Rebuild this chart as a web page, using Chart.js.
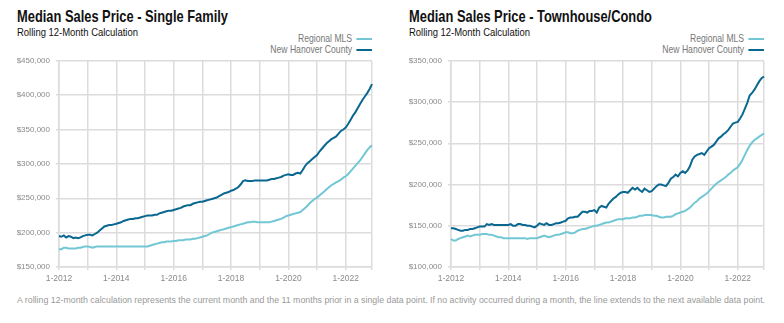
<!DOCTYPE html>
<html>
<head>
<meta charset="utf-8">
<script src="https://cdn.jsdelivr.net/npm/chart.js@4.4.1/dist/chart.umd.min.js"></script>
<style>
  body { margin:0; background:#fff; width:784px; height:323px; position:relative; overflow:hidden; }
  .title { position:absolute; font-family:'Liberation Sans',Arial,sans-serif; font-weight:bold; font-size:16.5px; color:#111; top:7px; white-space:nowrap; transform:scaleX(0.78); transform-origin:left top; }
  .sub { position:absolute; font-family:'Liberation Sans',Arial,sans-serif; font-size:11px; color:#111; top:26px; white-space:nowrap; transform:scaleX(0.86); transform-origin:left top; }
  .legend { position:absolute; font-family:'Liberation Sans',Arial,sans-serif; font-size:10.5px; color:#777; text-align:right; transform:scaleX(0.82); transform-origin:right top; }
  .legend div { height:11px; line-height:11px; white-space:nowrap; }
  .legend span { display:inline-block; width:19px; height:2px; vertical-align:middle; margin-left:5px; margin-top:-1px; }
  .box { position:absolute; top:50px; width:380px; height:240px; }
  .note { position:absolute; left:17px; top:295px; font-family:'Liberation Sans',Arial,sans-serif; font-size:8.8px; color:#999; white-space:nowrap; }
</style>
</head>
<body>
<div class="title" style="left:17px">Median Sales Price - Single Family</div>
<div class="sub" style="left:17px">Rolling 12-Month Calculation</div>
<div class="legend" style="right:412px; top:33px">
  <div>Regional MLS<span style="background:#72c7d4"></span></div>
  <div>New Hanover County<span style="background:#0a6890"></span></div>
</div>
<div class="box" style="left:0"><canvas id="sfChart"></canvas></div>

<div class="title" style="left:409px">Median Sales Price - Townhouse/Condo</div>
<div class="sub" style="left:409px">Rolling 12-Month Calculation</div>
<div class="legend" style="right:20px; top:33px">
  <div>Regional MLS<span style="background:#72c7d4"></span></div>
  <div>New Hanover County<span style="background:#0a6890"></span></div>
</div>
<div class="box" style="left:392px"><canvas id="tcChart"></canvas></div>

<div class="note">A rolling 12-month calculation represents the current month and the 11 months prior in a single data point. If no activity occurred during a month, the line extends to the next available data point.</div>

<script>
// === Datos (miles de $), mensual 1-2012 .. 12-2022 ===
const years = [2012,2013,2014,2015,2016,2017,2018,2019,2020,2021,2022];
const months = [];
years.forEach(y => { for (let m = 1; m <= 12; m++) months.push(m + '-' + y); });
const xTickLabels = ['1-2012','1-2014','1-2016','1-2018','1-2020','1-2022'];

const sfNhc = [
  195,194,196,193,195,194,192,193,192,193,195,196,
  197,197,196,198,200,203,206,209,210,211,211,212,
  213,214,215,217,218,219,220,220,221,221,222,223,
  224,225,225,225,226,226,228,229,230,231,232,232,
  233,234,235,236,238,239,240,240,242,243,244,245,
  245,246,247,248,249,250,251,253,255,257,258,259,
  261,262,264,266,270,275,276,275,275,275,276,276,
  276,276,276,276,277,278,278,279,280,281,283,284,
  285,284,284,286,287,286,291,297,301,304,307,310,
  313,318,322,326,330,333,336,338,340,344,348,350,
  353,358,364,370,375,381,387,393,398,403,409,416
];
const sfRegional = [
  176,176,178,178,177,177,177,177,178,178,179,180,
  180,179,178,179,180,180,180,180,180,180,180,180,
  180,180,180,180,180,180,180,180,180,180,180,180,
  180,180,181,182,183,184,185,186,186,187,187,187,
  188,188,189,189,189,190,190,190,191,191,192,193,
  194,195,196,198,200,201,202,203,204,205,206,207,
  208,209,210,211,212,213,214,215,215,216,216,215,
  215,215,215,215,215,216,217,218,219,220,222,224,
  225,226,227,228,229,230,233,236,239,243,246,249,
  251,254,257,260,263,266,269,271,273,275,277,280,
  282,285,289,293,297,301,305,310,315,320,324,327
];
const tcNhc = [
  147,147,146,145,144,144,145,145,146,146,147,148,
  149,149,149,152,151,152,151,151,151,151,151,151,
  151,152,150,150,152,152,151,151,150,150,149,148,
  150,153,152,151,153,151,151,152,153,153,154,155,
  156,159,160,160,161,161,164,167,167,166,168,168,
  169,166,172,174,173,172,177,180,183,185,188,190,
  191,191,190,193,196,194,196,193,191,195,193,191,
  192,195,198,200,200,199,198,202,207,209,212,210,
  214,216,214,217,222,230,234,236,237,238,236,240,
  244,246,248,252,256,258,261,263,266,270,274,275,
  276,280,285,292,299,308,311,315,320,325,329,331
];
const tcRegional = [
  134,132,132,134,135,136,137,138,137,138,139,139,
  139,140,140,140,139,139,138,137,136,136,135,135,
  135,135,135,135,135,135,135,135,134,135,135,135,
  135,136,137,138,137,136,137,138,139,139,140,141,
  142,142,141,141,142,144,145,146,146,147,148,149,
  150,150,151,152,153,154,154,155,156,157,158,158,
  158,159,159,159,160,160,161,162,162,163,163,163,
  163,162,162,161,160,160,161,161,161,162,164,165,
  166,167,168,170,172,175,178,180,183,185,187,189,
  192,195,198,201,203,205,207,209,212,214,217,219,
  221,225,230,236,242,247,251,254,256,258,260,262
];

const darkBlue = '#0a6890';
const lightTeal = '#72c7d4';
const gridGray = '#dcdcdc';

Chart.defaults.font.family = "'Liberation Sans', Arial, sans-serif";
Chart.defaults.color = '#8a8a8a';

function makeChart(id, nhc, regional, yMin, yMax) {
  new Chart(document.getElementById(id), {
    type: 'line',
    data: {
      labels: months,
      datasets: [
        { label:'Regional MLS', data: regional.map(v => v * 1000), borderColor: lightTeal, borderWidth: 2 },
        { label:'New Hanover County', data: nhc.map(v => v * 1000), borderColor: darkBlue, borderWidth: 2 }
      ]
    },
    options: {
      responsive: true,
      maintainAspectRatio: false,
      animation: false,
      elements: { point: { radius: 0 }, line: { tension: 0 } },
      layout: { padding: { top: 10, right: 8, left: 0, bottom: 0 } },
      plugins: { legend: { display: false }, tooltip: { enabled: false } },
      scales: {
        x: {
          type: 'category',
          offset: false,
          afterFit: s => { s.height = 23; },
          grid: {
            color: c => (c.index % 12 === 0 || c.index === months.length - 1) ? gridGray : 'rgba(0,0,0,0)',
            lineWidth: 1.5,
            tickLength: 3
          },
          border: { color: gridGray, width: 1.5 },
          ticks: {
            autoSkip: false,
            maxRotation: 0,
            padding: 4,
            font: { size: 8.5 },
            callback: (v, i) => xTickLabels.includes(months[i]) ? months[i] : ''
          }
        },
        y: {
          min: yMin,
          max: yMax,
          afterFit: s => { s.width = 59; },
          grid: { color: gridGray, lineWidth: 1.5, tickLength: 3 },
          border: { color: gridGray, width: 1.5 },
          ticks: {
            stepSize: 50000,
            padding: 6,
            font: { size: 8 },
            callback: v => '$' + v.toLocaleString('en-US')
          }
        }
      }
    }
  });
}

makeChart('sfChart', sfNhc, sfRegional, 150000, 450000);
makeChart('tcChart', tcNhc, tcRegional, 100000, 350000);
</script>
</body>
</html>
